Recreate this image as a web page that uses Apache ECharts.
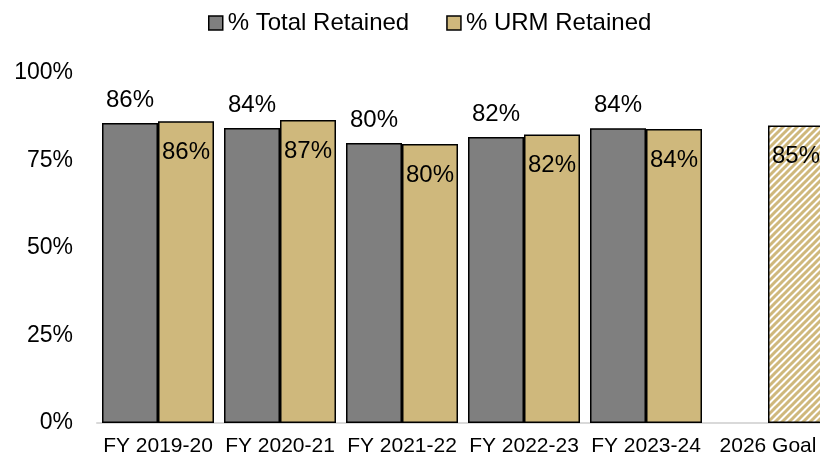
<!DOCTYPE html>
<html>
<head>
<meta charset="utf-8">
<script src="https://cdn.jsdelivr.net/npm/echarts@6/dist/echarts.min.js"></script>
<style>
  html, body { margin: 0; padding: 0; background: #fff; }
  #chart { width: 820px; height: 458px; }
</style>
</head>
<body>
<div id="chart"></div>
<script>
var categories = ['FY 2019-20', 'FY 2020-21', 'FY 2021-22', 'FY 2022-23', 'FY 2023-24', '2026 Goal'];
var totalRetained = [85.7, 84.3, 80.0, 81.7, 84.2, '-'];
var urmRetained = [86.2, 86.6, 79.7, 82.4, 84.0];
var urmGoal = 85;
var yTicks = [0, 25, 50, 75, 100];

var tan = '#CFB87C';
var grey = '#7F7F7F';
var font = '"Liberation Sans", Arial, Helvetica, sans-serif';

// diagonal hatch for the goal bar
var hatch = document.createElement('canvas');
hatch.width = 7;
hatch.height = 7;
var hc = hatch.getContext('2d');
hc.fillStyle = '#fff';
hc.fillRect(0, 0, 7, 7);
hc.strokeStyle = tan;
hc.lineWidth = 3;
hc.beginPath();
hc.moveTo(0, 7); hc.lineTo(7, 0);
hc.moveTo(-1, 1); hc.lineTo(1, -1);
hc.moveTo(6, 8); hc.lineTo(8, 6);
hc.stroke();

var urmData = urmRetained.slice();
urmData.push({
  value: urmGoal,
  itemStyle: { color: { image: hatch, repeat: 'repeat' } }
});

var pct = function (p) { return Math.round(p.value) + '%'; };

var chart = echarts.init(document.getElementById('chart'));
var option = {
  animation: false,
  textStyle: { fontFamily: font },
  legend: {
    top: 6,
    left: 203,
    itemWidth: 14,
    itemHeight: 14,
    itemGap: 37,
    icon: 'rect',
    textStyle: { fontSize: 24, color: '#000', fontFamily: font },
    data: [
      { name: '% Total Retained', itemStyle: { color: grey, borderColor: '#000', borderWidth: 1.5 } },
      { name: '% URM Retained', itemStyle: { color: tan, borderColor: '#000', borderWidth: 1.5 } }
    ]
  },
  grid: { left: 97, top: 73, width: 732, height: 350, outerBoundsMode: 'none', containLabel: false },
  xAxis: {
    type: 'category',
    data: categories,
    axisLine: { lineStyle: { color: '#d9d9d9', width: 2 } },
    axisTick: { show: false },
    axisLabel: { interval: 0, fontSize: 21, color: '#000', margin: 13, fontFamily: font }
  },
  yAxis: {
    type: 'value',
    min: 0,
    max: 100,
    interval: 25,
    splitLine: { show: false },
    axisLine: { show: false },
    axisTick: { show: false },
    axisLabel: {
      fontSize: 23, color: '#000', margin: 24, fontFamily: font,
      formatter: function (v) { return yTicks.indexOf(v) >= 0 ? v + '%' : ''; }
    }
  },
  series: [
    {
      name: '% Total Retained',
      type: 'bar',
      data: totalRetained,
      barWidth: 56,
      barGap: '0%',
      itemStyle: { color: grey, borderColor: '#000', borderWidth: 1.5 },
      label: { show: true, position: 'top', distance: 11, fontSize: 24, color: '#000', fontFamily: font, formatter: pct }
    },
    {
      name: '% URM Retained',
      type: 'bar',
      data: urmData,
      barWidth: 56,
      barGap: '0%',
      itemStyle: { color: tan, borderColor: '#000', borderWidth: 1.5 },
      label: { show: true, position: 'insideTop', distance: 19, fontSize: 24, color: '#000', fontFamily: font, formatter: pct }
    }
  ]
};
chart.setOption(option);
</script>
</body>
</html>
